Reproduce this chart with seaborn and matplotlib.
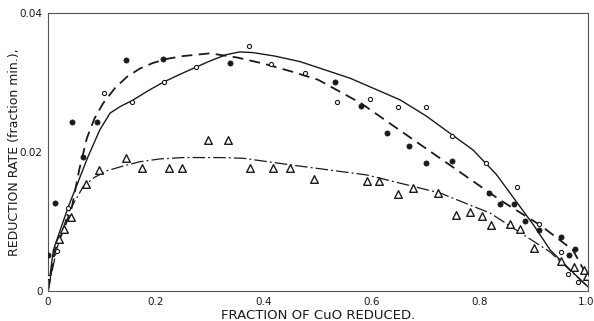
import numpy as np
import pandas as pd
import matplotlib
matplotlib.use("Agg")
import matplotlib.pyplot as plt
import matplotlib.transforms as mtransforms
import seaborn as sns

# Measured reduction rates (fraction/min) versus fraction of CuO reduced
filled_x = [0.0, 0.013, 0.044, 0.065, 0.09, 0.144, 0.213, 0.337, 0.531, 0.58, 0.628,
            0.668, 0.70, 0.748, 0.817, 0.837, 0.863, 0.883, 0.909, 0.95, 0.965, 0.976, 1.0]
filled_y = [0.0052, 0.0127, 0.0243, 0.0193, 0.0243, 0.0332, 0.0334, 0.0328, 0.0301, 0.0266, 0.0227,
            0.0209, 0.0184, 0.0187, 0.0141, 0.0125, 0.0125, 0.0101, 0.0088, 0.0078, 0.0052, 0.0060, 0.0020]

open_x = [0.0, 0.017, 0.037, 0.104, 0.156, 0.215, 0.274, 0.372, 0.413, 0.476, 0.535, 0.596,
          0.648, 0.70, 0.748, 0.811, 0.869, 0.909, 0.95, 0.963, 0.981]
open_y = [0.0020, 0.0058, 0.0119, 0.0285, 0.0272, 0.0301, 0.0322, 0.0353, 0.0327, 0.0314, 0.0272, 0.0276,
          0.0265, 0.0265, 0.0223, 0.0184, 0.0150, 0.0096, 0.0056, 0.0024, 0.0013]

tri_x = [0.02, 0.03, 0.042, 0.07, 0.094, 0.144, 0.174, 0.224, 0.248, 0.296, 0.333, 0.374, 0.417,
         0.448, 0.493, 0.59, 0.613, 0.648, 0.676, 0.722, 0.756, 0.781, 0.804, 0.82, 0.856, 0.874,
         0.90, 0.95, 0.974, 0.993, 0.998]
tri_y = [0.0075, 0.0089, 0.0106, 0.0154, 0.0174, 0.0191, 0.0177, 0.0177, 0.0177, 0.0217, 0.0217, 0.0177, 0.0177,
         0.0177, 0.0161, 0.0158, 0.0158, 0.0140, 0.0148, 0.0141, 0.0109, 0.0114, 0.0108, 0.0095, 0.0096, 0.0089,
         0.0062, 0.0043, 0.0035, 0.0030, 0.0022]

# Fitted curves
dash_x = [0.0, 0.013, 0.030, 0.044, 0.058, 0.072, 0.086, 0.102, 0.124, 0.146, 0.17, 0.194, 0.22, 0.25,
          0.30, 0.35, 0.40, 0.45, 0.50, 0.58, 0.65, 0.739, 0.837, 0.911, 0.972, 1.0]
dash_y = [0.0, 0.0059, 0.0090, 0.0120, 0.0175, 0.0220, 0.0248, 0.0270, 0.0292, 0.0308, 0.0320, 0.0328, 0.0334,
          0.0338, 0.0342, 0.0336, 0.0327, 0.0316, 0.0304, 0.0270, 0.0232, 0.0184, 0.0131, 0.0095, 0.0059, 0.0019]

solid_x = [0.0, 0.010, 0.037, 0.074, 0.096, 0.115, 0.135, 0.156, 0.185, 0.215, 0.245, 0.274, 0.30, 0.33,
           0.355, 0.38, 0.42, 0.467, 0.56, 0.652, 0.70, 0.739, 0.787, 0.83, 0.865, 0.90, 0.93, 0.965, 1.0]
solid_y = [0.0, 0.0059, 0.0120, 0.0193, 0.0232, 0.0256, 0.0266, 0.0274, 0.0288, 0.0301, 0.0312, 0.0322, 0.0331,
           0.0340, 0.0344, 0.0343, 0.0338, 0.0330, 0.0306, 0.0275, 0.0252, 0.0230, 0.0203, 0.0168, 0.0131,
           0.0094, 0.0059, 0.0032, 0.0006]

dashdot_x = [0.0, 0.016, 0.037, 0.065, 0.085, 0.109, 0.14, 0.17, 0.207, 0.25, 0.28, 0.32, 0.361, 0.454,
             0.59, 0.726, 0.819, 0.93, 1.0]
dashdot_y = [0.0, 0.0060, 0.0112, 0.0150, 0.0163, 0.0173, 0.0180, 0.0186, 0.0190, 0.0192, 0.0192, 0.0192,
             0.0191, 0.0181, 0.0167, 0.0141, 0.0112, 0.0056, 0.0006]

x_ticks = [0, 0.2, 0.4, 0.6, 0.8, 1.0]
x_tick_labels = ["0", "0.2", "0.4", "0.6", "0.8", "1.0"]
y_ticks = [0, 0.02, 0.04]
y_tick_labels = ["0", "0.02", "0.04"]

sns.set_style("white")
plt.rcParams["font.family"] = ["DejaVu Sans"]

fig = plt.figure(figsize=(5.94, 3.21), dpi=100)
ax = fig.add_axes([48 / 594, 1 - 291 / 321, 540 / 594, 278 / 321])

ink = "#1a1a1a"

sns.lineplot(x=dash_x, y=dash_y, ax=ax, sort=False, color=ink, lw=1.3,
             linestyle=(0, (6, 3.5)))
sns.lineplot(x=solid_x, y=solid_y, ax=ax, sort=False, color=ink, lw=1.0)
sns.lineplot(x=dashdot_x, y=dashdot_y, ax=ax, sort=False, color=ink, lw=0.9,
             linestyle=(0, (10, 2.5, 1.5, 2.5)))

sns.scatterplot(x=filled_x, y=filled_y, ax=ax, marker="o", s=14, color=ink,
                edgecolor=ink, linewidth=0.5, zorder=5)
sns.scatterplot(x=open_x, y=open_y, ax=ax, marker="o", s=9, facecolor="white",
                edgecolor=ink, linewidth=0.8, zorder=5)
sns.scatterplot(x=tri_x, y=tri_y, ax=ax, marker="^", s=30, facecolor="white",
                edgecolor=ink, linewidth=1.0, zorder=5)

ax.set_xlim(0, 1.0)
ax.set_ylim(0, 0.04)
ax.set_xticks(x_ticks)
ax.set_xticklabels(x_tick_labels)
ax.set_yticks(y_ticks)
ax.set_yticklabels(y_tick_labels)
ax.set_xticks(np.arange(0.1, 1.0, 0.2), minor=True)
ax.set_yticks([0.01, 0.03], minor=True)
ax.tick_params(axis="both", which="both", direction="in", length=5, width=0.7,
               color="#444444", labelsize=7.5, labelcolor=ink, pad=4)
ax.tick_params(axis="y", which="major", length=0)

# keep the last x label inside the canvas
last = ax.get_xticklabels()[-1]
last.set_horizontalalignment("right")
last.set_transform(last.get_transform() + mtransforms.ScaledTranslation(6 / 100, 0, fig.dpi_scale_trans))

for sp in ax.spines.values():
    sp.set_visible(True)
    sp.set_color("#555555")
    sp.set_linewidth(0.8)

ax.set_xlabel("FRACTION OF CuO REDUCED.", fontsize=9.5, color=ink, labelpad=2)
ax.set_ylabel("REDUCTION RATE (fraction min.),", fontsize=9, color=ink, labelpad=-1)

fig.savefig("out.png", dpi=100)
